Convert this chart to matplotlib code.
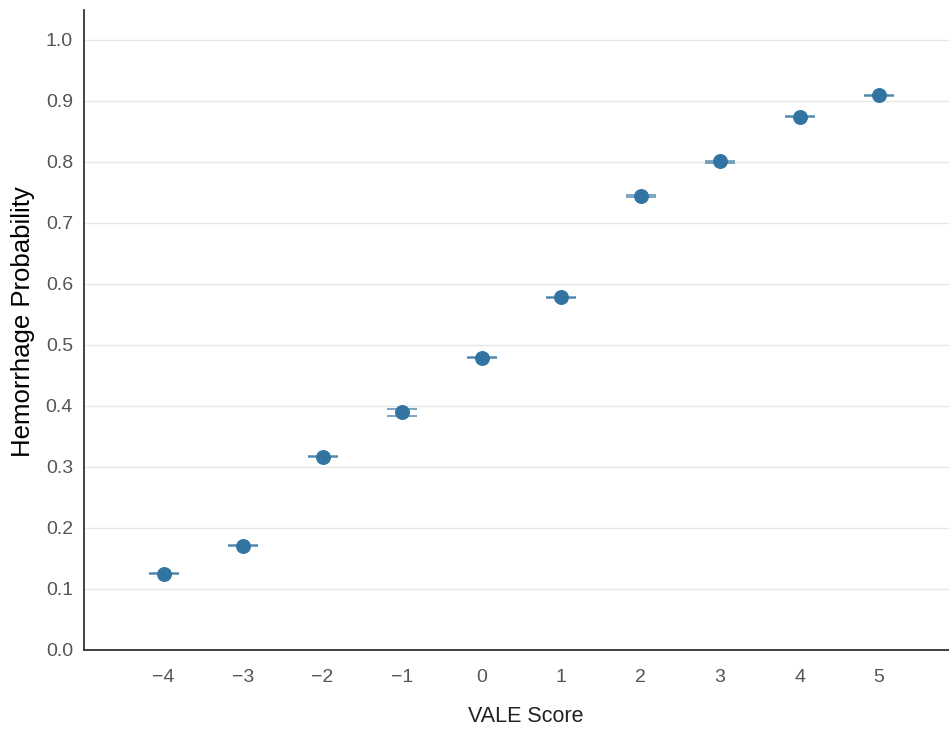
import numpy as np
import matplotlib.pyplot as plt

plt.rcParams['font.family'] = ['Liberation Sans', 'DejaVu Sans']

vale_score = [-4, -3, -2, -1, 0, 1, 2, 3, 4, 5]
prob = [0.125, 0.171, 0.317, 0.390, 0.479, 0.578, 0.744, 0.801, 0.874, 0.909]
ci_low = [0.124, 0.170, 0.316, 0.384, 0.478, 0.577, 0.743, 0.799, 0.873, 0.908]
ci_high = [0.126, 0.172, 0.318, 0.395, 0.480, 0.579, 0.745, 0.802, 0.875, 0.910]

x = np.array(vale_score)
y = np.array(prob)
yerr = np.vstack([y - np.array(ci_low), np.array(ci_high) - y])

fig = plt.figure(figsize=(9.49, 7.31), dpi=100)
ax = fig.add_axes([84 / 949, (731 - 650) / 731, (949 - 84) / 949, 640 / 731])

ax.errorbar(x, y, yerr=yerr, fmt='none', ecolor='#3274a1', elinewidth=1.2,
            capsize=11, capthick=1.2, alpha=0.75, zorder=3)
ax.scatter(x, y, s=95, color='#3274a1', zorder=4)

ax.set_xlim(-5.0, 5.88)
ax.set_ylim(0, 1.049)
ax.set_xticks(vale_score)
ax.set_xticklabels(['\u2212' + str(-v) if v < 0 else str(v) for v in vale_score])
ax.set_yticks(np.arange(0, 1.01, 0.1))
ax.set_yticklabels([f'{v:.1f}' for v in np.arange(0, 1.01, 0.1)])

ax.grid(axis='y', color='#e6e6e6', linewidth=1)
ax.set_axisbelow(True)
for s in ['top', 'right']:
    ax.spines[s].set_visible(False)
ax.spines['left'].set_color('#333333')
ax.spines['bottom'].set_color('#333333')
ax.spines['left'].set_linewidth(1.3)
ax.spines['bottom'].set_linewidth(1.3)

ax.tick_params(axis='x', length=0, labelsize=14, labelcolor='#555555', pad=14)
ax.tick_params(axis='y', length=0, labelsize=14, labelcolor='#555555', pad=8)
ax.set_ylabel('Hemorrhage Probability', fontsize=18.5, color='black')
ax.yaxis.set_label_coords((35 - 84) / 865, (650 - 322) / 640)
ax.set_xlabel('VALE Score', fontsize=15.5, color='#222222', va='center')
ax.xaxis.set_label_coords((526 - 84) / 865, (650 - 717) / 640)

fig.savefig('out.png', dpi=100)
